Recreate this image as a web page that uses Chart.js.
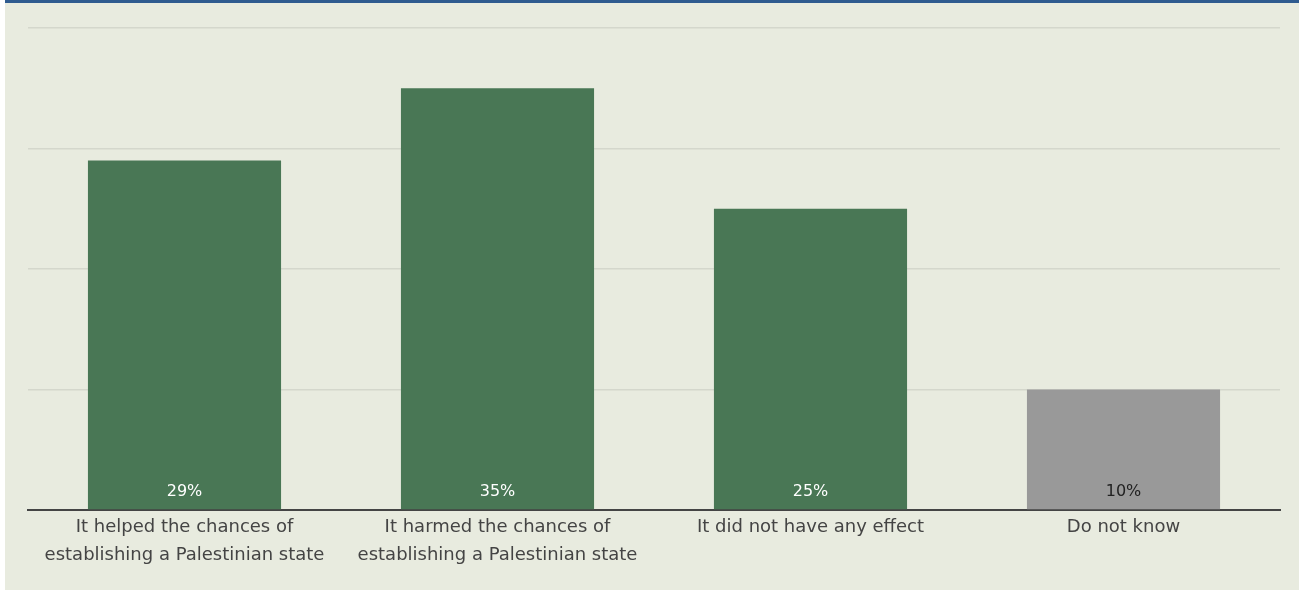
<!DOCTYPE html>
<html>
<head>
<meta charset="utf-8">
<script src="https://cdn.jsdelivr.net/npm/chart.js@4.4.1/dist/chart.umd.min.js"></script>
<style>
  body { margin: 0; background: #ffffff; }
  #panel {
    position: absolute; left: 5px; top: 0; width: 1294px; height: 587px;
    background: #e8ebdf; border-top: 3px solid #2f5b8f;
  }
</style>
</head>
<body>
<div id="panel"><canvas id="chart" width="1294" height="587"></canvas></div>
<script>
// answers and shares (%)
const categories = [
  ['It helped the chances of', 'establishing a Palestinian state'],
  ['It harmed the chances of', 'establishing a Palestinian state'],
  'It did not have any effect',
  'Do not know'
];
const shares = [29, 35, 25, 10];
const barColors = ['#497755', '#497755', '#497755', '#999999'];
const labelColors = ['#ffffff', '#ffffff', '#ffffff', '#222222'];

// write the value near the bottom of each bar
const valueLabels = {
  id: 'valueLabels',
  afterDatasetsDraw(chart) {
    let ctx = chart.ctx;
    let meta = chart.getDatasetMeta(0);
    ctx.save();
    ctx.font = '16px "DejaVu Sans"';
    ctx.textAlign = 'center';
    ctx.textBaseline = 'middle';
    meta.data.forEach((bar, i) => {
      ctx.fillStyle = labelColors[i];
      ctx.fillText(shares[i] + '%', bar.x, bar.base - 17);
    });
    ctx.restore();
  }
};

new Chart(document.getElementById('chart'), {
  type: 'bar',
  data: {
    labels: categories,
    datasets: [{
      data: shares,
      backgroundColor: barColors,
      borderWidth: 0,
      categoryPercentage: 1,
      barPercentage: 0.617
    }]
  },
  options: {
    responsive: false,
    animation: false,
    layout: { padding: { left: 23, right: 19, top: 25, bottom: 0 } },
    plugins: { legend: { display: false }, tooltip: { enabled: false } },
    scales: {
      x: {
        grid: { display: false },
        border: { color: '#444444', width: 2 },
        ticks: {
          color: '#444444',
          font: { family: 'DejaVu Sans', size: 18, lineHeight: 1.55 },
          padding: -5,
          maxRotation: 0,
          autoSkip: false
        },
        afterFit: s => { s.height = 80; }
      },
      y: {
        min: 0, max: 40,
        ticks: { display: false, stepSize: 10 },
        grid: { color: '#d4d7cc', lineWidth: 1.5, drawTicks: false },
        border: { display: false },
        afterFit: s => { s.width = 0; }
      }
    }
  },
  plugins: [valueLabels]
});
</script>
</body>
</html>
